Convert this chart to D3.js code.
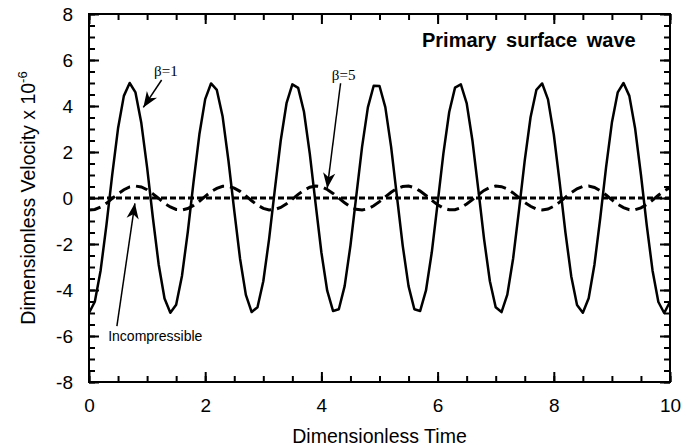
<!DOCTYPE html>
<html>
<head>
<meta charset="utf-8">
<script src="https://cdn.jsdelivr.net/npm/d3@7"></script>
<style>
body { margin: 0; background: #fff; }
text { font-family: Arial, "Liberation Sans", sans-serif; fill: #000; }
</style>
</head>
<body>
<svg id="chart" width="695" height="448"></svg>
<script>
// dimensionless time samples
var tijd = [0,0.1,0.2,0.3,0.4,0.5,0.6,0.7,0.8,0.9,
  1,1.1,1.2,1.3,1.4,1.5,1.6,1.7,1.8,1.9,
  2,2.1,2.2,2.3,2.4,2.5,2.6,2.7,2.8,2.9,
  3,3.1,3.2,3.3,3.4,3.5,3.6,3.7,3.8,3.9,
  4,4.1,4.2,4.3,4.4,4.5,4.6,4.7,4.8,4.9,
  5,5.1,5.2,5.3,5.4,5.5,5.6,5.7,5.8,5.9,
  6,6.1,6.2,6.3,6.4,6.5,6.6,6.7,6.8,6.9,
  7,7.1,7.2,7.3,7.4,7.5,7.6,7.7,7.8,7.9,
  8,8.1,8.2,8.3,8.4,8.5,8.6,8.7,8.8,8.9,
  9,9.1,9.2,9.3,9.4,9.5,9.6,9.7,9.8,9.9,
  10];

// beta = 1 (solid)
var beta1 = [-5.00,-4.51,-3.15,-1.18,1.02,3.03,4.44,5.00,4.59,3.27,
  1.33,-0.87,-2.90,-4.37,-4.99,-4.64,-3.39,-1.48,0.71,2.77,
  4.30,4.98,4.70,3.54,1.63,-0.55,-2.64,-4.21,-4.96,-4.75,
  -3.62,-1.78,0.40,2.50,4.12,4.94,4.79,3.75,1.93,-0.24,
  -2.37,-4.03,-4.91,-4.84,-3.83,-2.07,0.08,2.22,3.94,4.88,
  4.87,3.95,2.22,0.07,-2.08,-3.83,-4.84,-4.91,-4.02,-2.36,
  -0.23,1.94,3.74,4.80,4.94,4.13,2.49,0.39,-1.79,-3.62,
  -4.75,-4.96,-4.20,-2.63,-0.55,1.64,3.51,4.70,4.98,4.29,
  2.76,0.70,-1.49,-3.40,-4.65,-4.99,-4.36,-2.89,-0.86,1.34,
  3.28,4.59,5.00,4.44,3.02,1.01,-1.19,-3.16,-4.52,-5.00,
  -4.51];

// beta = 5 (dashed)
var beta5 = [-0.52,-0.50,-0.39,-0.23,-0.02,0.18,0.36,0.48,0.52,0.48,
  0.36,0.18,-0.02,-0.23,-0.39,-0.50,-0.52,-0.46,-0.32,-0.14,
  0.07,0.27,0.42,0.51,0.51,0.43,0.29,0.09,-0.12,-0.31,
  -0.45,-0.52,-0.50,-0.41,-0.25,-0.05,0.16,0.34,0.47,0.52,
  0.49,0.37,0.20,0.00,-0.21,-0.38,-0.49,-0.52,-0.47,-0.34,
  -0.16,0.05,0.25,0.41,0.50,0.52,0.45,0.30,0.11,-0.10,
  -0.29,-0.44,-0.51,-0.51,-0.42,-0.26,-0.07,0.14,0.33,0.46,
  0.52,0.49,0.39,0.22,0.02,-0.19,-0.36,-0.48,-0.52,-0.48,
  -0.36,-0.18,0.03,0.23,0.40,0.50,0.52,0.46,0.32,0.13,
  -0.08,-0.27,-0.42,-0.51,-0.51,-0.43,-0.28,-0.09,0.12,0.31,
  0.45];

// incompressible (dotted, stays on zero)
var incompTijd = [0, 10];
var incompWaarde = [0, 0];

var xTicks = [0, 2, 4, 6, 8, 10];
var yTicks = [-8, -6, -4, -2, 0, 2, 4, 6, 8];

var svg = d3.select("#chart");

var x = d3.scaleLinear().domain([0, 10]).range([89, 670]);
var y = d3.scaleLinear().domain([-8, 8]).range([382, 14]);

function styleAxis(g) {
  g.select(".domain").remove();
  g.selectAll("line").attr("stroke", "#000").attr("stroke-width", 2);
  g.selectAll("text").style("font-size", "19px")
    .style("font-family", "Arial, 'Liberation Sans', sans-serif");
}

// plain hyphen for negatives, like the original
var label = function(d) { return String(d); };

// minor ticks, all four sides
svg.append("g").attr("transform", "translate(0,382)")
  .call(d3.axisBottom(x).tickValues(x.ticks(20)).tickSize(-6).tickFormat(""))
  .call(styleAxis);
svg.append("g").attr("transform", "translate(0,14)")
  .call(d3.axisTop(x).tickValues(x.ticks(20)).tickSize(-6).tickFormat(""))
  .call(styleAxis);
svg.append("g").attr("transform", "translate(89,0)")
  .call(d3.axisLeft(y).tickValues(y.ticks(32)).tickSize(-6).tickFormat(""))
  .call(styleAxis);
svg.append("g").attr("transform", "translate(670,0)")
  .call(d3.axisRight(y).tickValues(y.ticks(32)).tickSize(-6).tickFormat(""))
  .call(styleAxis);

// major ticks + labels
svg.append("g").attr("transform", "translate(0,382)")
  .call(d3.axisBottom(x).tickValues(xTicks).tickSize(-10).tickPadding(17).tickFormat(label))
  .call(styleAxis);
svg.append("g").attr("transform", "translate(0,14)")
  .call(d3.axisTop(x).tickValues(xTicks).tickSize(-10).tickFormat(""))
  .call(styleAxis);
svg.append("g").attr("transform", "translate(89,0)")
  .call(d3.axisLeft(y).tickValues(yTicks).tickSize(-10).tickPadding(16).tickFormat(label))
  .call(styleAxis);
svg.append("g").attr("transform", "translate(670,0)")
  .call(d3.axisRight(y).tickValues(yTicks).tickSize(-10).tickFormat(""))
  .call(styleAxis);

svg.append("rect")
  .attr("x", x(0)).attr("y", y(8))
  .attr("width", x(10) - x(0)).attr("height", y(-8) - y(8))
  .attr("fill", "none").attr("stroke", "#000").attr("stroke-width", 2);

var line = d3.line()
  .x(function(d) { return x(d[0]); })
  .y(function(d) { return y(d[1]); });

svg.append("path")
  .datum(d3.zip(tijd, beta5))
  .attr("d", line)
  .attr("fill", "none").attr("stroke", "#000")
  .attr("stroke-width", 3).attr("stroke-dasharray", "12,6");

svg.append("path")
  .datum(d3.zip(tijd, beta1))
  .attr("d", line)
  .attr("fill", "none").attr("stroke", "#000")
  .attr("stroke-width", 2.5).attr("stroke-linejoin", "round");

svg.append("path")
  .datum(d3.zip(incompTijd, incompWaarde))
  .attr("d", line)
  .attr("fill", "none").attr("stroke", "#000")
  .attr("stroke-width", 3).attr("stroke-dasharray", "6,3");

// arrow heads
svg.append("defs").append("marker")
  .attr("id", "pijl")
  .attr("markerUnits", "userSpaceOnUse")
  .attr("markerWidth", 20).attr("markerHeight", 20)
  .attr("viewBox", "-16 -8 18 16")
  .attr("refX", 0).attr("refY", 0)
  .attr("orient", "auto")
  .append("path")
  .attr("d", "M0,0 L-14,-5.5 L-10,0 L-14,5.5 Z")
  .attr("fill", "#000");

var pijlen = [
  { van: [1.25, 5.13], naar: [0.935, 3.94] },
  { van: [4.33, 4.99], naar: [4.10, 0.42] },
  { van: [0.48, -5.57], naar: [0.79, -0.23] }
];

svg.selectAll(".pijl")
  .data(pijlen)
  .enter()
  .append("line")
  .attr("class", "pijl")
  .attr("x1", function(d) { return x(d.van[0]); })
  .attr("y1", function(d) { return y(d.van[1]); })
  .attr("x2", function(d) { return x(d.naar[0]); })
  .attr("y2", function(d) { return y(d.naar[1]); })
  .attr("stroke", "#000").attr("stroke-width", 1.5)
  .attr("marker-end", "url(#pijl)");

svg.append("text")
  .attr("x", x(1.12)).attr("y", y(5.3))
  .style("font-family", "'Times New Roman', 'Liberation Serif', serif")
  .style("font-size", "15px")
  .text("β=1");

svg.append("text")
  .attr("x", x(4.18)).attr("y", y(5.13))
  .style("font-family", "'Times New Roman', 'Liberation Serif', serif")
  .style("font-size", "15px")
  .text("β=5");

svg.append("text")
  .attr("x", x(0.33)).attr("y", y(-6.2))
  .style("font-size", "14px")
  .text("Incompressible");

svg.append("text")
  .attr("x", 422).attr("y", 47)
  .style("font-size", "20px").style("font-weight", "bold")
  .style("word-spacing", "4px")
  .text("Primary surface wave");

// axis titles
svg.append("text")
  .attr("x", (x(0) + x(10)) / 2).attr("y", 443)
  .attr("text-anchor", "middle")
  .style("font-size", "19.5px")
  .text("Dimensionless Time");

var yTitel = svg.append("text")
  .attr("transform", "translate(35," + y(0) + ") rotate(-90)")
  .attr("text-anchor", "middle")
  .style("font-size", "19.5px");
yTitel.append("tspan").text("Dimensionless Velocity x 10");
yTitel.append("tspan").attr("dy", -8).style("font-size", "13px").text("-6");
</script>
</body>
</html>
